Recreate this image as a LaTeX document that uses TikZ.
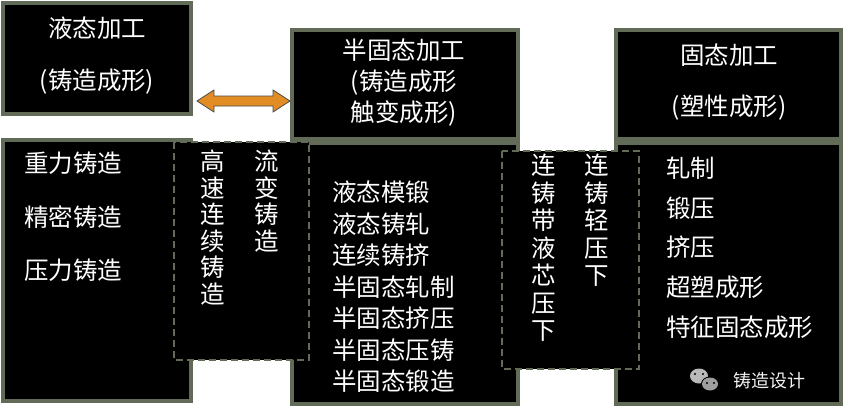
\documentclass[tikz,border=0pt]{standalone}
\usepackage{fontspec}
\setmainfont{Noto Sans CJK SC}
\usetikzlibrary{calc}
\definecolor{bord}{RGB}{98,106,88}
\definecolor{arr}{RGB}{226,140,36}
\tikzset{
 blk/.style={draw=bord,line width=3.5pt,fill=black},
 dsh/.style={draw=bord,line width=2pt,dash pattern=on 7pt off 4pt,fill=black},
 txt/.style={text=white,font=\fontsize{24.5}{26}\selectfont,inner sep=0pt},
 col/.style={text=white,font=\fontsize{24.5}{26.5}\selectfont,inner sep=0pt,align=center,anchor=north},
 lst/.style={text=white,font=\fontsize{24.5}{31.5}\selectfont,inner sep=0pt,align=left,anchor=north west},
}
\begin{document}
\begin{tikzpicture}[x=1pt,y=-1pt]
\useasboundingbox (0,0) rectangle (844,418);
\fill[white] (0,0) rectangle (844,418);
% boxes
\draw[blk] (3,3) rectangle (191,114); \node (b1) at (97,58) {};
\draw[blk] (3,140) rectangle (191,401); \node (b2) at (97,270) {};
\draw[blk] (292,30) rectangle (518,139); \node (b3) at (405,85) {};
\draw[blk] (292,143) rectangle (518,404);
\draw[blk] (616,30) rectangle (841,139); \node (b4) at (728,85) {};
\draw[blk] (616,143) rectangle (841,404);
\draw[dsh] (174,142) rectangle (309,360);
\draw[dsh] (502,151) rectangle (639,369);
% arrow
\coordinate (al) at (197,101); \coordinate (arr) at (290,101);
\draw[fill=arr,draw=black!70,line width=0.8pt]
  (al) -- ++(17,-11) -- ++(0,6) -- ($(arr)+(-17,-5)$) -- ++(0,-6) -- (arr)
  -- ++(-17,11) -- ++(0,-6) -- ($(al)+(17,5)$) -- ++(0,6) -- cycle;
% headers
\node[txt] (h1a) at (97,28) {液态加工};
\node[txt] (h1b) at (97,82) {(铸造成形)};
\node[txt,align=center,font=\fontsize{24.5}{31}\selectfont] (h3) at (404,83) {半固态加工\\(铸造成形\\触变成形)};
\node[txt] (h4a) at (729,55) {固态加工};
\node[txt] (h4b) at (729,108) {(塑性成形)};
% lists
\node[txt,anchor=west] (l1) at (24,163) {重力铸造};
\node[txt,anchor=west] (l2) at (24,217) {精密铸造};
\node[txt,anchor=west] (l3) at (24,270) {压力铸造};
\node[col] (c1) at (213,150) {高\\速\\连\\续\\铸\\造};
\node[col] (c2) at (267,150) {流\\变\\铸\\造};
\node[lst] (s) at (332,181) {液态模锻\\液态铸轧\\连续铸挤\\半固态轧制\\半固态挤压\\半固态压铸\\半固态锻造};
\node[col,font=\fontsize{24.5}{27.5}\selectfont] (c3) at (544,154) {连\\铸\\带\\液\\芯\\压\\下};
\node[col,font=\fontsize{24.5}{27.5}\selectfont] (c4) at (597,154) {连\\铸\\轻\\压\\下};
\node[txt,anchor=west] (r1) at (666,168) {轧制};
\node[txt,anchor=west] (r2) at (666,208) {锻压};
\node[txt,anchor=west] (r3) at (666,247) {挤压};
\node[txt,anchor=west] (r4) at (666,287) {超塑成形};
\node[txt,anchor=west] (r5) at (666,327) {特征固态成形};
% watermark
\fill[gray!55] (699,376) ellipse (9pt and 7.5pt);
\fill[black] (710,384) ellipse (9pt and 7.5pt);
\fill[gray!75] (710,384) ellipse (8pt and 6.5pt);
\fill[black] (695,374) circle (1.2pt) (703,374) circle (1.2pt) (707,383) circle (1.1pt) (714,383) circle (1.1pt);
\node[txt,anchor=west,font=\fontsize{18}{20}\selectfont,text=white!90!gray] (wm) at (733,381) {铸造设计};
\end{tikzpicture}
\end{document}
